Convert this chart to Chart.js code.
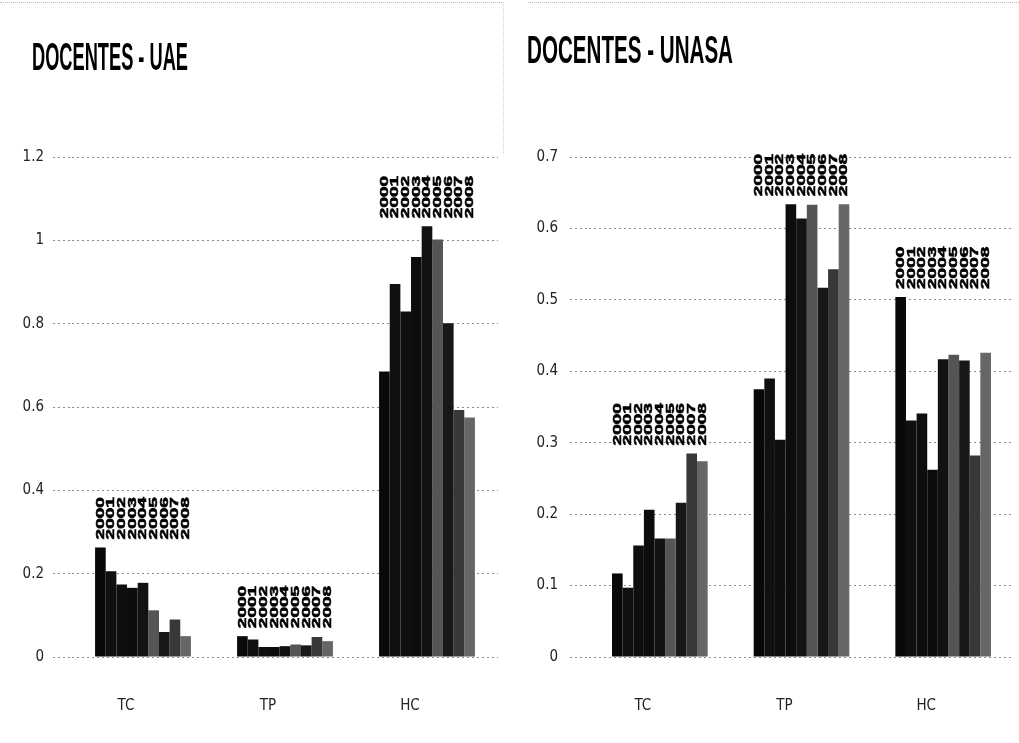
<!DOCTYPE html>
<html>
<head>
<meta charset="utf-8">
<script src="https://cdn.jsdelivr.net/npm/chart.js@4/dist/chart.umd.min.js"></script>
<style>
  html, body { margin: 0; padding: 0; background: #fff; }
  body { width: 1019px; height: 743px; position: relative; overflow: hidden; }
  .panel { position: absolute; top: 0; height: 743px; }
  #pl { left: 0; width: 510px; }
  #pr { left: 510px; width: 509px; }
  canvas { position: absolute; left: 0; top: 0; }
  .title { position: absolute; font-family: 'Liberation Sans', Arial, sans-serif; font-weight: bold;
           font-size: 39px; line-height: 1; white-space: nowrap; color: #000; transform-origin: 0 0; }
  .frame { position: absolute; border-top: 1px dotted #bbb; }
</style>
</head>
<body>
<div class="frame" style="left:0;top:2px;width:503px;height:150px;border-right:1px dotted #ccc;"></div>
<div class="frame" style="left:528px;top:2px;width:491px;height:0;"></div>
<div class="panel" id="pl"><canvas id="c1" width="510" height="743"></canvas></div>
<div class="panel" id="pr"><canvas id="c2" width="509" height="743"></canvas></div>
<div class="title" id="t1" style="left:32px;top:37px;">DOCENTES - UAE</div>
<div class="title" id="t2" style="left:527px;top:30px;">DOCENTES - UNASA</div>
<script>
// ---- data ----
const categories = ['TC', 'TP', 'HC'];
const years = ['2000', '2001', '2002', '2003', '2004', '2005', '2006', '2007', '2008'];

// UAE values per year (2000..2008)
const uaeTC = [0.263, 0.206, 0.174, 0.166, 0.178, 0.112, 0.060, 0.090, 0.050];
const uaeTP = [0.050, 0.042, 0.024, 0.024, 0.026, 0.030, 0.028, 0.048, 0.038];
const uaeHC = [0.685, 0.895, 0.829, 0.960, 1.034, 1.002, 0.801, 0.593, 0.575];

// UNASA values per year (2000..2008)
const unasaTC = [0.117, 0.097, 0.156, 0.206, 0.166, 0.166, 0.216, 0.285, 0.274];
const unasaTP = [0.375, 0.390, 0.304, 0.634, 0.614, 0.633, 0.517, 0.543, 0.634];
const unasaHC = [0.504, 0.331, 0.341, 0.262, 0.417, 0.423, 0.415, 0.282, 0.426];

const yTicksUAE = [0, 0.2, 0.4, 0.6, 0.8, 1, 1.2];
const yTicksUNASA = [0, 0.1, 0.2, 0.3, 0.4, 0.5, 0.6, 0.7];

const seriesColors = ['#090909', '#101010', '#0e0e0e', '#0c0c0c', '#121212', '#555555', '#181818', '#383838', '#666666'];

// ---- helpers ----
const tickFont = { family: "'Liberation Sans Narrow', 'DejaVu Sans Condensed', sans-serif", size: 15 };

function buildDatasets(tc, tp, hc) {
  return years.map((y, k) => ({
    label: y,
    data: [tc[k], tp[k], hc[k]],
    backgroundColor: seriesColors[k],
    borderWidth: 0,
    barPercentage: 1.0,
    categoryPercentage: 0.675
  }));
}

const yearLabelPlugin = {
  id: 'yearLabels',
  afterDatasetsDraw(chart) {
    const ctx = chart.ctx;
    const n = chart.data.labels.length;
    ctx.save();
    ctx.fillStyle = '#000';
    ctx.strokeStyle = '#000';
    ctx.lineWidth = 0.9;
    ctx.font = "bold 19px 'Liberation Sans', Arial, sans-serif";
    ctx.textAlign = 'left';
    ctx.textBaseline = 'middle';
    for (let i = 0; i < n; i++) {
      let top = Infinity;
      chart.data.datasets.forEach((ds, d) => {
        const el = chart.getDatasetMeta(d).data[i];
        if (el) top = Math.min(top, el.y);
      });
      chart.data.datasets.forEach((ds, d) => {
        const el = chart.getDatasetMeta(d).data[i];
        if (!el) return;
        ctx.save();
        ctx.translate(el.x, top - 8);
        ctx.rotate(-Math.PI / 2);
        ctx.scale(1, 0.62);
        ctx.fillText(ds.label, 0, 0);
        ctx.strokeText(ds.label, 0, 0);
        ctx.restore();
      });
    }
    ctx.restore();
  }
};

function makeChart(id, datasets, ticksArr, yMax, axisWidth, labelPad, padRight) {
  return new Chart(document.getElementById(id), {
    type: 'bar',
    data: { labels: categories, datasets },
    plugins: [yearLabelPlugin],
    options: {
      responsive: false,
      animation: false,
      events: [],
      layout: { padding: { top: 157, bottom: 0, left: 0, right: padRight } },
      plugins: { legend: { display: false }, tooltip: { enabled: false }, title: { display: false } },
      scales: {
        x: {
          grid: { display: false },
          border: { display: false },
          ticks: { font: tickFont, color: '#222', padding: 32, labelOffset: -17, maxRotation: 0 },
          afterFit(s) { s.height = 86; }
        },
        y: {
          min: 0, max: yMax,
          border: { display: false, dash: [2, 3] },
          grid: { color: 'rgba(0,0,0,0.45)', tickLength: 19, tickBorderDash: [2, 3], lineWidth: 1 },
          ticks: { font: tickFont, color: '#222', padding: labelPad, callback: v => String(v) },
          afterBuildTicks(s) { s.ticks = ticksArr.map(v => ({ value: v })); },
          afterFit(s) { s.width = axisWidth; }
        }
      }
    }
  });
}

makeChart('c1', buildDatasets(uaeTC, uaeTP, uaeHC), yTicksUAE, 1.2, 72, 9, 12);
makeChart('c2', buildDatasets(unasaTC, unasaTP, unasaHC), yTicksUNASA, 0.7, 79, 12, 5);

// condense titles to the reference width
function fitTitle(id, w) {
  const el = document.getElementById(id);
  const cur = el.getBoundingClientRect().width;
  el.style.transform = 'scaleX(' + (w / cur) + ')';
}
fitTitle('t1', 156);
fitTitle('t2', 206);
</script>
</body>
</html>
